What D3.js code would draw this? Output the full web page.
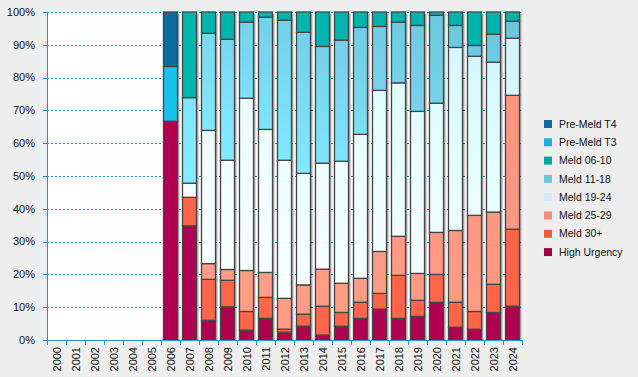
<!DOCTYPE html>
<html><head><meta charset="utf-8">
<script src="https://cdn.jsdelivr.net/npm/d3@7"></script>
<style>
html,body{margin:0;padding:0;background:#eeeeee;}
svg{display:block;font-family:"Liberation Sans",Arial,sans-serif;}
</style></head>
<body>
<svg id="c" width="638" height="377"></svg>
<script>
const years = ["2000","2001","2002","2003","2004","2005","2006","2007","2008","2009","2010","2011","2012","2013","2014","2015","2016","2017","2018","2019","2020","2021","2022","2023","2024"];
const seriesNames = ["High Urgency","Meld 30+","Meld 25-29","Meld 19-24","Meld 11-18","Meld 06-10","Pre-Meld T3","Pre-Meld T4"];
const highUrgency = [0,0,0,0,0,0,66.7,34.8,6.0,10.1,3.0,6.6,2.4,4.2,1.5,4.2,6.6,9.4,6.6,7.2,11.5,3.9,3.3,8.4,10.3];
const meld30 = [0,0,0,0,0,0,0,8.7,12.5,8.1,5.7,6.4,0.9,3.7,8.8,4.2,4.9,4.8,13.1,4.9,8.5,7.6,5.4,8.6,23.5];
const meld25 = [0,0,0,0,0,0,0,0,4.8,3.3,12.5,7.6,9.4,8.9,11.3,8.9,7.3,12.8,11.9,8.2,12.8,21.9,29.3,22.0,40.8];
const meld19 = [0,0,0,0,0,0,0,4.3,40.6,33.3,52.5,43.6,42.1,34.0,32.3,37.2,43.9,49.1,46.8,49.4,39.4,55.8,48.5,45.7,17.4];
const meld11 = [0,0,0,0,0,0,0,26.1,29.6,36.9,23.2,34.2,42.7,43.0,35.6,36.9,32.6,19.5,18.5,26.2,26.8,6.7,3.3,8.5,5.2];
const meld06 = [0,0,0,0,0,0,0,26.1,6.5,8.3,3.1,1.6,2.5,6.2,10.5,8.6,4.7,4.4,3.1,4.1,1.0,4.1,10.2,6.8,2.8];
const preT3 = [0,0,0,0,0,0,16.7,0,0,0,0,0,0,0,0,0,0,0,0,0,0,0,0,0,0];
const preT4 = [0,0,0,0,0,0,16.6,0,0,0,0,0,0,0,0,0,0,0,0,0,0,0,0,0,0];
const yTicks = [0,0.1,0.2,0.3,0.4,0.5,0.6,0.7,0.8,0.9,1.0];

const seriesValues = [highUrgency,meld30,meld25,meld19,meld11,meld06,preT3,preT4];
const barStops = {
  "High Urgency":[[0,"#b00050"],[1,"#b00050"]],
  "Meld 30+":[[0,"#ff6347"],[1,"#ff6549"]],
  "Meld 25-29":[[0,"#ff917c"],[1,"#ff9d87"]],
  "Meld 19-24":[[0,"#d0f0fc"],[0.15,"#d6f4fc"],[0.38,"#e0fefe"],[0.6,"#eefefe"],[1,"#f8ffff"]],
  "Meld 11-18":[[0,"#6ac4da"],[0.35,"#76d3eb"],[0.65,"#82e8fd"],[1,"#88f0ff"]],
  "Meld 06-10":[[0,"#00b3aa"],[1,"#00b8b0"]],
  "Pre-Meld T3":[[0,"#18c2ea"],[1,"#18c2ea"]],
  "Pre-Meld T4":[[0,"#0b6c9e"],[1,"#0b6c9e"]]
};
const legendColors = {
  "Pre-Meld T4":"#0f6a99","Pre-Meld T3":"#18b2dc","Meld 06-10":"#00a99f","Meld 11-18":"#70c6d8",
  "Meld 19-24":"#cfe9f8","Meld 25-29":"#f28c7a","Meld 30+":"#f05a44","High Urgency":"#a00048"
};

const table = years.map((y,i)=>{const o={year:y}; seriesNames.forEach((s,k)=>o[s]=seriesValues[k][i]); return o;});

const L=47, R=522, T=12, B=340;
const svg = d3.select("#c");
const x = d3.scaleBand().domain(years).range([L,R]).padding(0);
const y = d3.scaleLinear().domain([0,1]).range([B,T]);

const defs = svg.append("defs");
const bgGrad = defs.append("linearGradient").attr("id","bg").attr("x1",0).attr("x2",1).attr("y1",0).attr("y2",0);
bgGrad.append("stop").attr("offset",0).attr("stop-color","#ffffff");
bgGrad.append("stop").attr("offset",1).attr("stop-color","#f6f6f6");
seriesNames.forEach((s,k)=>{
  const g = defs.append("linearGradient").attr("id","g"+k).attr("gradientUnits","userSpaceOnUse")
    .attr("x1",R).attr("y1",T).attr("x2",R-150).attr("y2",B);
  barStops[s].forEach(st=>g.append("stop").attr("offset",st[0]).attr("stop-color",st[1]));
});

svg.append("rect").attr("x",L).attr("y",T).attr("width",R-L).attr("height",B-T).attr("fill","url(#bg)");

// gridlines
svg.append("g").selectAll("line").data(yTicks).join("line")
  .attr("x1",L).attr("x2",R).attr("y1",d=>Math.round(y(d))+0.5).attr("y2",d=>Math.round(y(d))+0.5)
  .attr("stroke","#1a96dc").attr("stroke-dasharray","2,2").attr("stroke-width",1);

const stack = d3.stack().keys(seriesNames).offset(d3.stackOffsetExpand);
const stacked = stack(table);

const bw = 14;
// shadows
svg.append("g").selectAll("rect").data(table.filter(d=>seriesNames.some(s=>d[s]>0))).join("rect")
  .attr("x",d=>x(d.year)+2+2.5).attr("y",y(1)+2).attr("width",bw).attr("height",y(0)-y(1)-2)
  .attr("fill","#000").attr("opacity",0.3);

stacked.forEach((ser,k)=>{
  svg.append("g").selectAll("rect").data(ser.filter(d=>d[1]-d[0]>0)).join("rect")
    .attr("x",d=>x(d.data.year)+2.5).attr("width",bw)
    .attr("y",d=>y(d[1])).attr("height",d=>y(d[0])-y(d[1]))
    .attr("fill","url(#g"+k+")").attr("stroke","#444").attr("stroke-width",1.3);
});

// y axis
const yAxis = svg.append("g");
yAxis.append("line").attr("x1",L+0.5).attr("x2",L+0.5).attr("y1",T).attr("y2",B+1).attr("stroke","#1a96dc");
yAxis.selectAll(".t").data(yTicks).join("line").attr("class","t")
  .attr("x1",L-4).attr("x2",L).attr("y1",d=>Math.round(y(d))+0.5).attr("y2",d=>Math.round(y(d))+0.5).attr("stroke","#1a96dc");
yAxis.selectAll("text").data(yTicks).join("text")
  .attr("x",35).attr("y",d=>y(d)).attr("dy","0.35em").attr("text-anchor","end")
  .attr("font-size",11).attr("fill","#111").text(d=>d3.format(".0%")(d));

// x axis
const xAxis = svg.append("g");
xAxis.append("line").attr("x1",L).attr("x2",R).attr("y1",B+0.5).attr("y2",B+0.5).attr("stroke","#1a96dc");
xAxis.selectAll(".t").data(years.concat(["end"])).join("line").attr("class","t")
  .attr("x1",(d,i)=>Math.round(L+i*x.step())+0.5).attr("x2",(d,i)=>Math.round(L+i*x.step())+0.5)
  .attr("y1",B).attr("y2",B+5).attr("stroke","#1a96dc");
xAxis.selectAll("text").data(years).join("text")
  .attr("transform",d=>`translate(${x(d)+x.bandwidth()/2+4},347) rotate(-90)`)
  .attr("text-anchor","end").attr("font-size",11).attr("fill","#111").text(d=>d);

// legend
const legendOrder = seriesNames.slice().reverse();
const lg = svg.append("g").selectAll("g").data(legendOrder).join("g")
  .attr("transform",(d,i)=>`translate(544,${124+i*18.3})`);
lg.append("rect").attr("x",0).attr("y",-4).attr("width",8).attr("height",8).attr("fill",d=>legendColors[d]);
lg.append("text").attr("x",15).attr("y",0).attr("dy","0.35em").attr("font-size",10.5).attr("fill","#111").text(d=>d);
</script>
</body></html>
